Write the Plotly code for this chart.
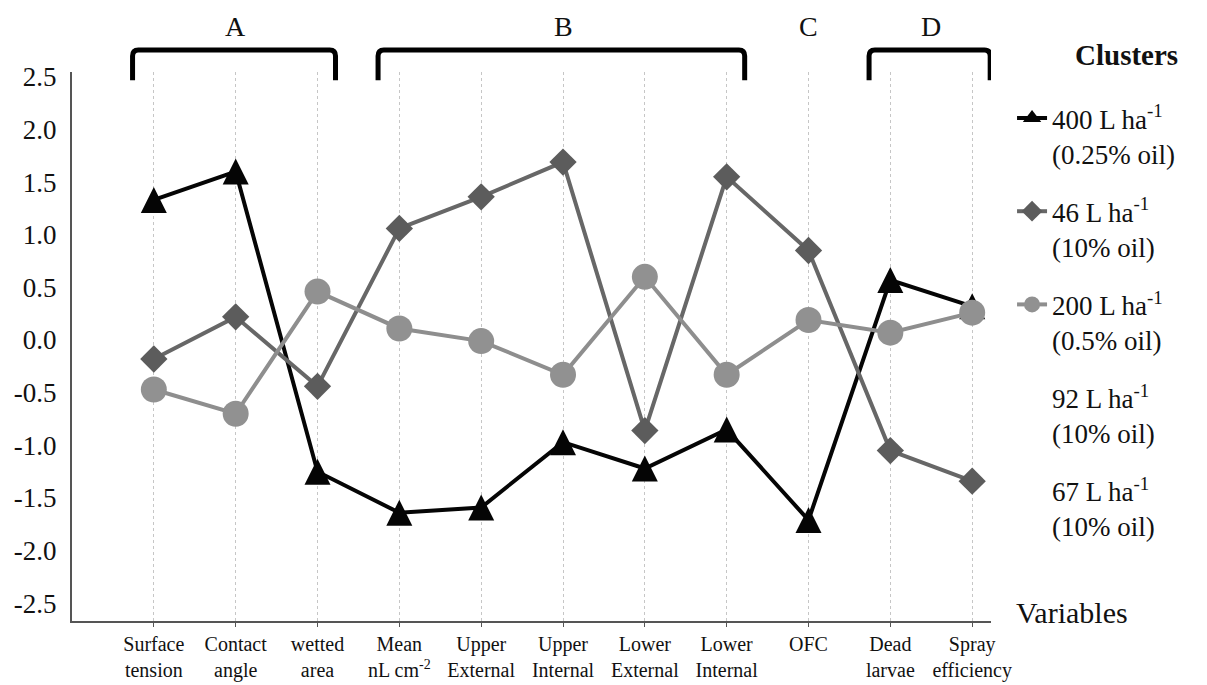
import plotly.graph_objects as go

# ---------------- data ----------------
variables = ["Surface<br>tension", "Contact<br>angle", "wetted<br>area", "Mean<br>nL cm<sup>-2</sup>",
             "Upper<br>External", "Upper<br>Internal", "Lower<br>External", "Lower<br>Internal",
             "OFC", "Dead<br>larvae", "Spray<br>efficiency"]
x_index = list(range(len(variables)))

cluster_400 = [1.33, 1.60, -1.25, -1.64, -1.59, -0.97, -1.22, -0.85, -1.71, 0.57, 0.32]
cluster_46 = [-0.18, 0.22, -0.44, 1.06, 1.36, 1.69, -0.86, 1.55, 0.85, -1.05, -1.34]
cluster_200 = [-0.47, -0.70, 0.46, 0.11, -0.01, -0.33, 0.60, -0.33, 0.19, 0.07, 0.26]

legend_names = ["400 L ha<sup>-1</sup><br>(0.25% oil)",
                "46 L ha<sup>-1</sup><br>(10% oil)",
                "200 L ha<sup>-1</sup><br>(0.5% oil)",
                "92 L ha<sup>-1</sup><br>(10% oil)",
                "67 L ha<sup>-1</sup><br>(10% oil)"]

y_tick_vals = [2.5, 2.0, 1.5, 1.0, 0.5, 0.0, -0.5, -1.0, -1.5, -2.0, -2.5]
y_tick_text = ["2.5", "2.0", "1.5", "1.0", "0.5", "0.0", "-0.5", "-1.0", "-1.5", "-2.0", "-2.5"]

group_labels = ["A", "B", "C", "D"]
group_first = [0, 3, 8, 9]
group_last = [2, 7, 8, 10]
group_bracket = [True, True, False, True]

# ---------------- figure ----------------
FONT = "Liberation Serif"
BLACK, DARK, LIGHT = "#050505", "#5c5c5c", "#919191"
fig = go.Figure()

# data traces
fig.add_trace(go.Scatter(
    x=x_index, y=cluster_400, mode="lines+markers", name=legend_names[0],
    line=dict(color=BLACK, width=4),
    marker=dict(symbol="arrow-down", angle=180, standoff=13, size=26, color=BLACK),
    showlegend=False))
fig.add_trace(go.Scatter(
    x=x_index, y=cluster_46, mode="lines+markers", name=legend_names[1],
    line=dict(color="#676767", width=4),
    marker=dict(symbol="diamond", size=21, color=DARK),
    showlegend=False))
fig.add_trace(go.Scatter(
    x=x_index, y=cluster_200, mode="lines+markers", name=legend_names[2],
    line=dict(color="#8e8e8e", width=4),
    marker=dict(symbol="circle", size=26, color=LIGHT),
    showlegend=False))

# legend entries
fig.add_trace(go.Scatter(x=[None], y=[None], mode="lines+markers", name=legend_names[0],
                         line=dict(color=BLACK, width=4),
                         marker=dict(symbol="triangle-up", size=16, color=BLACK), legendgroup="g1"))
fig.add_trace(go.Scatter(x=[None], y=[None], mode="lines+markers", name=legend_names[1],
                         line=dict(color="#676767", width=4),
                         marker=dict(symbol="diamond", size=16, color=DARK), legendgroup="g2"))
fig.add_trace(go.Scatter(x=[None], y=[None], mode="lines+markers", name=legend_names[2],
                         line=dict(color="#8e8e8e", width=4),
                         marker=dict(symbol="circle", size=16, color=LIGHT), legendgroup="g3"))
for i, nm in enumerate(legend_names[3:]):
    fig.add_trace(go.Scatter(
        x=[None], y=[None], mode="markers", name=nm,
        marker=dict(opacity=0, color="white"), legendgroup="g%d" % (4 + i)))

# brackets and group letters
lp, rp = 0.26, 0.22
yt, yb = 1.040, 0.985
rx, ry = 0.07, 0.011
for lab, a, b, br in zip(group_labels, group_first, group_last, group_bracket):
    if br:
        x0, x1 = a - lp, b + rp
        path = (f"M {x0},{yb} L {x0},{yt - ry} Q {x0},{yt} {x0 + rx},{yt} "
                f"L {x1 - rx},{yt} Q {x1},{yt} {x1},{yt - ry} L {x1},{yb}")
        fig.add_shape(type="path", path=path, xref="x", yref="paper",
                      line=dict(color="#000000", width=5))
    fig.add_annotation(x=(a + b) / 2, y=1.082, xref="x", yref="paper", text=lab,
                       showarrow=False, font=dict(family=FONT, size=28, color="#111111"),
                       xanchor="center", yanchor="middle", borderpad=0)

fig.add_annotation(x=1.147, y=1.031, xref="paper", yref="paper", text="<b>Clusters</b>",
                   showarrow=False, font=dict(family=FONT, size=29, color="#111111"),
                   xanchor="center", yanchor="middle")
fig.add_annotation(x=1.088, y=0.016, xref="paper", yref="paper", text="Variables",
                   showarrow=False, font=dict(family=FONT, size=30, color="#111111"),
                   xanchor="center", yanchor="middle")

# the page body adds an 8px margin, so the figure is 8px smaller and margins shifted
fig.update_layout(
    width=1199, height=677,
    margin=dict(l=64, r=216, t=64, b=64),
    paper_bgcolor="white", plot_bgcolor="white",
    font=dict(family=FONT, color="#111111"),
    showlegend=True,
    legend=dict(x=1.0229, y=0.96, xanchor="left", yanchor="top",
                font=dict(family=FONT, size=27, color="#111111"),
                valign="top", tracegroupgap=20, bgcolor="rgba(0,0,0,0)",
                traceorder="grouped"),
    xaxis=dict(range=[-1.0, 10.23], tickmode="array", tickvals=x_index, ticktext=variables,
               showgrid=True, gridcolor="#c6c6c6", gridwidth=1, griddash="dot",
               showline=True, linecolor="#555555", linewidth=2,
               ticks="outside", ticklen=4, tickcolor="#555555", tickwidth=1,
               tickfont=dict(family=FONT, size=20, color="#111111"),
               zeroline=False, fixedrange=True, automargin=False),
    yaxis=dict(range=[-2.668, 2.545], tickmode="array", tickvals=y_tick_vals, ticktext=y_tick_text,
               showgrid=False, zeroline=False,
               showline=True, linecolor="#555555", linewidth=2,
               ticks="", ticklabelstandoff=8,
               tickfont=dict(family=FONT, size=27, color="#111111"),
               fixedrange=True, automargin=False),
)

fig.write_html("out.html")
